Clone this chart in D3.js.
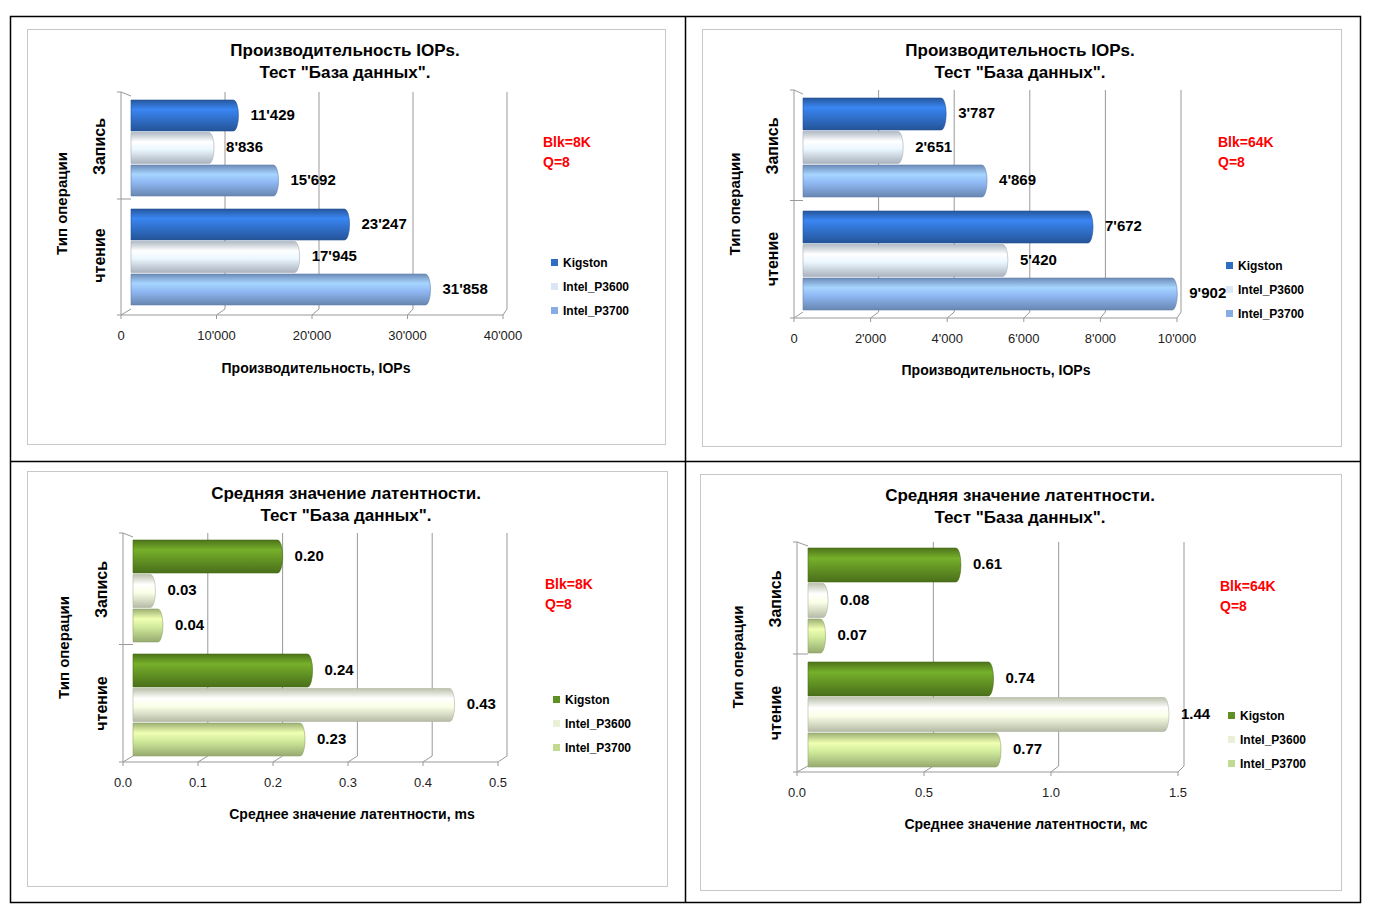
<!DOCTYPE html>
<html><head><meta charset="utf-8">
<script src="https://cdn.jsdelivr.net/npm/d3@7"></script>
<style>body{margin:0;background:#fff}svg{display:block}text{font-family:"Liberation Sans",Arial,sans-serif}</style>
</head><body><svg width="1375" height="910"></svg>
<script>
// data
const series = ['Kigston', 'Intel_P3600', 'Intel_P3700']
const categories = ['Запись', 'чтение']
const iops8k = [[11429, 8836, 15692], [23247, 17945, 31858]]
const iops64k = [[3787, 2651, 4869], [7672, 5420, 9902]]
const lat8k = [[0.20, 0.03, 0.04], [0.24, 0.43, 0.23]]
const lat64k = [[0.61, 0.08, 0.07], [0.74, 1.44, 0.77]]
const ticksIops8k = [0, 10000, 20000, 30000, 40000]
const ticksIops64k = [0, 2000, 4000, 6000, 8000, 10000]
const ticksLat8k = [0, 0.1, 0.2, 0.3, 0.4, 0.5]
const ticksLat64k = [0, 0.5, 1.0, 1.5]

const blue = ['#2f6cc4', '#dbe6f4', '#86ace3']
const green = ['#5f8e22', '#e9f0d6', '#c2da90']

const svg = d3.select('svg')
const defs = svg.append('defs')

function gradient (id, c) {
  const g = defs.append('linearGradient').attr('id', id)
    .attr('x1', 0).attr('y1', 0).attr('x2', 0).attr('y2', 1)
  const col = d3.color(c)
  g.append('stop').attr('offset', '0%').attr('stop-color', col.darker(0.6))
  g.append('stop').attr('offset', '30%').attr('stop-color', col.brighter(0.6))
  g.append('stop').attr('offset', '55%').attr('stop-color', col.brighter(0.2))
  g.append('stop').attr('offset', '100%').attr('stop-color', col.darker(0.7))
}
blue.forEach((c, i) => gradient('b' + i, c))
green.forEach((c, i) => gradient('g' + i, c))

// outer frame
svg.append('rect').attr('x', 10.5).attr('y', 16.5).attr('width', 1350).attr('height', 886)
  .attr('fill', 'none').attr('stroke', '#000').attr('stroke-width', 1.5)
svg.append('line').attr('x1', 685.5).attr('x2', 685.5).attr('y1', 16).attr('y2', 902).attr('stroke', '#000').attr('stroke-width', 1.5)
svg.append('line').attr('x1', 10).attr('x2', 1360).attr('y1', 461.5).attr('y2', 461.5).attr('stroke', '#000').attr('stroke-width', 1.5)

const fmtIops = v => d3.format(',')(v).replace(/,/g, "'")

const panels = [
  { box: [27, 29, 638, 415], title: ['Производительность IOPs.', 'Тест "База данных".'], ty: 50, tx: 345,
    data: iops8k, ticks: ticksIops8k, colors: 'b', fmt: fmtIops, tfmt: fmtIops,
    back: [131, 507], front: [121, 503], top: 92, floor: 309, bars: [100, 209], bh: 31,
    xlabel: 'Производительность,  IOPs', xlx: 316, xly: 373, tag: ['Blk=8K', 'Q=8'], tagx: 543, tagy: 147, legx: 551, legy: 263 },
  { box: [702, 29, 639, 417], title: ['Производительность IOPs.', 'Тест "База данных".'], ty: 50, tx: 1020,
    data: iops64k, ticks: ticksIops64k, colors: 'b', fmt: fmtIops, tfmt: fmtIops,
    back: [803, 1181], front: [794, 1177], top: 90, floor: 312, bars: [98, 211], bh: 32,
    xlabel: 'Производительность,  IOPs', xlx: 996, xly: 375, tag: ['Blk=64K', 'Q=8'], tagx: 1218, tagy: 147, legx: 1226, legy: 266 },
  { box: [27, 471, 640, 415], title: ['Средняя значение латентности.', 'Тест "База данных".'], ty: 493, tx: 346,
    data: lat8k, ticks: ticksLat8k, colors: 'g', fmt: d3.format('.2f'), tfmt: d3.format('.1f'),
    back: [133, 507], front: [123, 498], top: 533, floor: 756, bars: [540, 654], bh: 33,
    xlabel: 'Среднее значение латентности, ms', xlx: 352, xly: 819, tag: ['Blk=8K', 'Q=8'], tagx: 545, tagy: 589, legx: 553, legy: 700 },
  { box: [700, 474, 641, 416], title: ['Средняя значение латентности.', 'Тест "База данных".'], ty: 495, tx: 1020,
    data: lat64k, ticks: ticksLat64k, colors: 'g', fmt: d3.format('.2f'), tfmt: d3.format('.1f'),
    back: [808, 1184], front: [797, 1178], top: 542, floor: 766, bars: [548, 662], bh: 34,
    xlabel: 'Среднее значение латентности, мс', xlx: 1026, xly: 829, tag: ['Blk=64K', 'Q=8'], tagx: 1220, tagy: 591, legx: 1228, legy: 716 }
]

panels.forEach(p => {
  const g = svg.append('g')
  g.append('rect').attr('x', p.box[0] + 0.5).attr('y', p.box[1] + 0.5).attr('width', p.box[2]).attr('height', p.box[3])
    .attr('fill', '#fff').attr('stroke', '#c8c8c8')
  p.title.forEach((t, i) => g.append('text').attr('x', p.tx).attr('y', p.ty + i * 22 + 6)
    .attr('text-anchor', 'middle').attr('font-size', 17).attr('font-weight', 'bold').text(t))

  const max = p.ticks[p.ticks.length - 1]
  const xb = d3.scaleLinear().domain([0, max]).range(p.back)
  const xf = d3.scaleLinear().domain([0, max]).range(p.front)
  const fy = p.floor + 6

  // gridlines (back wall) and floor
  p.ticks.forEach(t => {
    if (t > 0) g.append('line').attr('x1', xb(t)).attr('x2', xb(t)).attr('y1', p.top).attr('y2', p.floor).attr('stroke', '#999')
    g.append('line').attr('x1', xf(t)).attr('x2', xb(t)).attr('y1', fy).attr('y2', p.floor).attr('stroke', '#999')
    g.append('line').attr('x1', xf(t)).attr('x2', xf(t)).attr('y1', fy).attr('y2', fy + 4).attr('stroke', '#999')
  })
  g.append('line').attr('x1', xf(0)).attr('x2', xf(max)).attr('y1', fy).attr('y2', fy).attr('stroke', '#999')
  // left wall
  g.append('line').attr('x1', xf(0)).attr('x2', xf(0)).attr('y1', p.top).attr('y2', fy).attr('stroke', '#999')
  g.append('line').attr('x1', xf(0)).attr('x2', xb(0)).attr('y1', p.top).attr('y2', p.top + 4).attr('stroke', '#999')
  const midY = (p.bars[1] - 4 + p.bars[0] + 3 * p.bh) / 2
  g.append('line').attr('x1', xf(0) - 4).attr('x2', xb(0)).attr('y1', midY).attr('y2', midY).attr('stroke', '#999')
  g.append('line').attr('x1', xf(0) - 4).attr('x2', xf(0)).attr('y1', p.top).attr('y2', p.top).attr('stroke', '#999')
  g.append('line').attr('x1', xf(0) - 4).attr('x2', xf(0)).attr('y1', fy).attr('y2', fy).attr('stroke', '#999')

  // tick labels
  p.ticks.forEach(t => g.append('text').attr('x', xf(t)).attr('y', fy + 25)
    .attr('text-anchor', 'middle').attr('font-size', 13).attr('fill', '#222').text(p.tfmt(t)))

  // bars
  p.data.forEach((grp, gi) => {
    grp.forEach((v, si) => {
      const y = p.bars[gi] + si * (p.bh + 1.5)
      const x0 = xb(0)
      const x1 = xb(v)
      const r = 5
      g.append('path')
        .attr('d', `M${x0},${y}H${x1 - r}A${r},${p.bh / 2} 0 0 1 ${x1 - r},${y + p.bh}H${x0}Z`)
        .attr('fill', `url(#${p.colors}${si})`).attr('stroke', d3.color(p.colors === 'b' ? blue[si] : green[si]).darker(0.8)).attr('stroke-width', 0.6)
      g.append('text').attr('x', x1 + 12).attr('y', y + p.bh / 2 + 4)
        .attr('font-size', 15).attr('font-weight', 'bold').text(p.fmt(v))
    })
  })

  // axis titles
  g.append('text').attr('transform', `translate(${xf(0) - 54},${(p.top + fy) / 2}) rotate(-90)`)
    .attr('text-anchor', 'middle').attr('font-size', 15).attr('font-weight', 'bold').text('Тип операции')
  categories.forEach((c, gi) => {
    const cy = p.bars[gi] + 1.5 * p.bh
    g.append('text').attr('transform', `translate(${xf(0) - 16},${cy}) rotate(-90)`)
      .attr('text-anchor', 'middle').attr('font-size', 16).attr('font-weight', 'bold').text(c)
  })
  g.append('text').attr('x', p.xlx).attr('y', p.xly).attr('text-anchor', 'middle')
    .attr('font-size', 14).attr('font-weight', 'bold').text(p.xlabel)

  // tag
  p.tag.forEach((t, i) => g.append('text').attr('x', p.tagx).attr('y', p.tagy + i * 20)
    .attr('font-size', 14).attr('font-weight', 'bold').attr('fill', '#ff0000').text(t))

  // legend
  const cols = p.colors === 'b' ? blue : green
  series.forEach((s, i) => {
    const ly = p.legy + i * 24
    g.append('rect').attr('x', p.legx).attr('y', ly - 4).attr('width', 7).attr('height', 7).attr('fill', cols[i])
    g.append('text').attr('x', p.legx + 12).attr('y', ly + 4).attr('font-size', 12).attr('font-weight', 'bold').text(s)
  })
})
</script></body></html>
